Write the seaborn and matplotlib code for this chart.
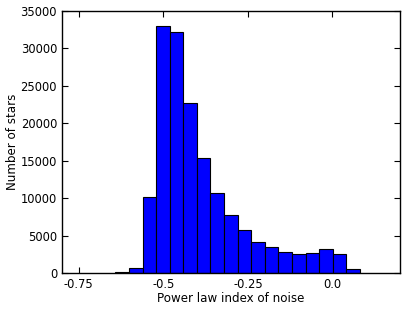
import matplotlib
matplotlib.use("Agg")
import matplotlib.pyplot as plt
import numpy as np
import pandas as pd
import seaborn as sns

# histogram counts, 18 bins of width ~0.04
bin_edges = [-0.642, -0.602, -0.561, -0.521, -0.481, -0.441, -0.401, -0.361,
             -0.320, -0.280, -0.240, -0.200, -0.160, -0.119, -0.079, -0.039,
             0.001, 0.041, 0.082]
star_counts = [150, 750, 10180, 33000, 32240, 22680, 15350, 10680, 7740,
               5780, 4220, 3510, 2840, 2620, 2710, 3240, 2620, 570]
x_ticks = [-0.75, -0.5, -0.25, 0.0]
y_ticks = [0, 5000, 10000, 15000, 20000, 25000, 30000, 35000]

sns.set_style("ticks")
plt.rcParams["font.family"] = ["DejaVu Sans"]
plt.rcParams["axes.unicode_minus"] = False
plt.rcParams["xtick.direction"] = "in"
plt.rcParams["ytick.direction"] = "in"
plt.rcParams["xtick.top"] = True
plt.rcParams["ytick.right"] = True

edges = np.array(bin_edges)
df = pd.DataFrame({"index": (edges[:-1] + edges[1:]) / 2,
                   "count": star_counts})

fig = plt.figure(figsize=(4.07, 3.11), dpi=100)
ax = fig.add_axes([0.152, 0.121, 0.831, 0.844])

sns.histplot(data=df, x="index", weights="count", bins=bin_edges, color="blue",
             edgecolor="black", linewidth=0.8, alpha=1, ax=ax)

ax.set_xlim(-0.8, 0.2)
ax.set_ylim(0, 35000)
ax.set_xticks(x_ticks)
ax.set_xticklabels([str(t) for t in x_ticks])
ax.set_yticks(y_ticks)
ax.tick_params(labelsize=8.3, length=4, width=0.8, color="black", labelcolor="black")
for s in ax.spines.values():
    s.set_color("black")
    s.set_linewidth(1)
ax.set_xlabel("Power law index of noise", fontsize=8.6, color="black", labelpad=0.5)
ax.set_ylabel("Number of stars", fontsize=8.6, color="black", labelpad=1)

fig.savefig("out.png", dpi=100)
